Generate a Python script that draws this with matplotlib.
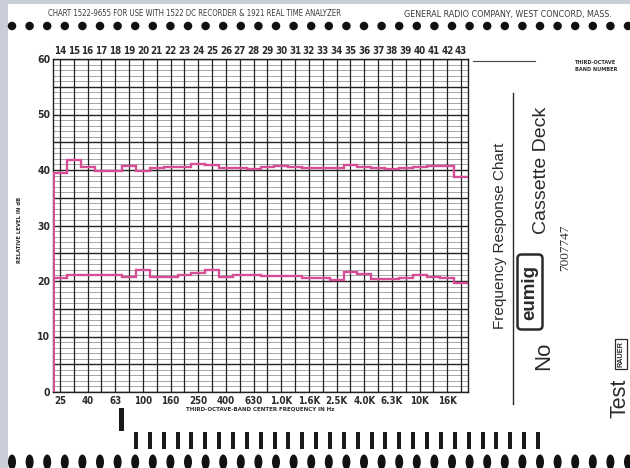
import numpy as np
import matplotlib
matplotlib.use("Agg")
import matplotlib.pyplot as plt
from matplotlib.patches import Rectangle, Ellipse, FancyBboxPatch

# third-octave band numbers and the frequency labels printed under every second band
bands = list(range(14, 44))
freq_bands = [14, 16, 18, 20, 22, 24, 26, 28, 30, 32, 34, 36, 38, 40, 42]
freq_labels = ["25", "40", "63", "100", "160", "250", "400", "630", "1.0K",
               "1.6K", "2.5K", "4.0K", "6.3K", "10K", "16K"]

# pen traces (dB)
upper = [39.4, 41.8, 40.5, 39.8, 39.8, 40.8, 39.8, 40.4, 40.6, 40.6,
         41.0, 40.9, 40.4, 40.4, 40.1, 40.6, 40.7, 40.6, 40.3, 40.3,
         40.3, 40.9, 40.6, 40.3, 40.1, 40.4, 40.5, 40.8, 40.7, 38.7]
lower = [20.5, 21.1, 21.0, 21.0, 21.0, 20.7, 21.9, 20.8, 20.8, 21.1,
         21.5, 21.9, 20.7, 21.1, 21.1, 20.9, 20.9, 20.9, 20.6, 20.6,
         20.2, 21.6, 21.2, 20.4, 20.4, 20.6, 21.0, 20.7, 20.6, 19.6]

W, H = 630, 468
pen = "#d64f96"
ink = "#2b2b2b"
cond = dict(family="DejaVu Sans", stretch="condensed", weight="bold")
thin = dict(family="DejaVu Sans", stretch="condensed")
sans = ["Liberation Sans", "DejaVu Sans"]

fig = plt.figure(figsize=(W / 100, H / 100), dpi=100)
fig.patch.set_facecolor("#c9ced8")

# whole-figure axes in pixel units for the paper and printing
bg = fig.add_axes([0, 0, 1, 1])
bg.set_xlim(0, W)
bg.set_ylim(H, 0)
bg.axis("off")
bg.add_patch(Rectangle((8, 4), W - 8, H - 4, facecolor="white", edgecolor="none"))

# sprocket holes top and bottom
for i in range(36):
    x = 12 + i * 17.6
    bg.add_patch(Ellipse((x, 26), 8.5, 8.5, facecolor="#111111", edgecolor="none"))
    bg.add_patch(Ellipse((x, 462), 8, 15, facecolor="#111111", edgecolor="none"))

# index bars under the chart
bg.add_patch(Rectangle((119, 408), 5, 23, facecolor="#1a1a1a", edgecolor="none"))
for i in range(30):
    bg.add_patch(Rectangle((134 + i * 13.86, 432), 4, 17, facecolor="#1a1a1a", edgecolor="none"))

bg.text(48, 14, "CHART 1522-9655 FOR USE WITH 1522 DC RECORDER & 1921 REAL TIME ANALYZER",
        fontsize=5.6, color="#3a3a3a", va="center", ha="left", **thin)
bg.text(612, 14, "GENERAL RADIO COMPANY, WEST CONCORD, MASS.",
        fontsize=6.4, color="#3a3a3a", va="center", ha="right", **thin)

# chart paper
ax = fig.add_axes([53 / W, 1 - 392 / H, 415 / W, 333 / H])
ax.set_xlim(13.5, 43.5)
ax.set_ylim(0, 60)
for db in range(0, 61):
    lw = 1.0 if db % 5 == 0 else 0.45
    col = "#222222" if db % 5 == 0 else "#777777"
    ax.axhline(db, color=col, lw=lw, zorder=1)
for b in bands:
    ax.axvline(b, color="#222222", lw=0.9, zorder=1)
for s in ax.spines.values():
    s.set_color("#222222")
    s.set_linewidth(1.0)

edges = np.append(np.array(bands) - 0.5, bands[-1] + 0.5)
ax.stairs(upper, edges, baseline=None, color=pen, lw=1.7, zorder=3)
ax.stairs(lower, edges, baseline=None, color=pen, lw=1.7, zorder=3)
ax.vlines(edges[0], 0, upper[0], color=pen, lw=2.2, zorder=3)

ax.set_yticks(range(0, 61, 10))
ax.set_yticklabels([str(v) for v in range(0, 61, 10)], fontsize=7.5, color=ink, **cond)
ax.tick_params(axis="y", length=0, pad=2)
ax.set_xticks(freq_bands)
ax.set_xticklabels(freq_labels, fontsize=7, color=ink, **cond)
ax.tick_params(axis="x", length=0, pad=3)

top = ax.secondary_xaxis("top")
top.set_xticks(bands)
top.set_xticklabels([str(b) for b in bands], fontsize=7, color=ink, **cond)
top.tick_params(length=0, pad=2)
top.spines["top"].set_visible(False)

ax.set_xlabel("THIRD-OCTAVE-BAND CENTER FREQUENCY IN Hz", fontsize=4.4, color=ink,
              labelpad=0, **cond)
bg.text(20, 230, "RELATIVE LEVEL IN dB", rotation=90, fontsize=4.2,
        color=ink, ha="center", va="center", **cond)

# right-hand printing
bg.plot([473, 535], [61, 61], color="#444444", lw=0.8)
bg.text(575, 66, "THIRD-OCTAVE\nBAND NUMBER", fontsize=4.0,
        color=ink, ha="left", va="center", linespacing=1.6, **cond)
bg.plot([513, 513], [93, 404], color=ink, lw=1.0)
bg.text(500, 236, "Frequency Response Chart", rotation=90, family=sans, fontsize=11,
        color=ink, ha="center", va="center")
bg.text(541, 170, "Cassette Deck", rotation=90, family=sans, fontsize=14,
        color=ink, ha="center", va="center")
bg.add_patch(FancyBboxPatch((519, 256), 22, 72, boxstyle="round,pad=1.5,rounding_size=4",
                            facecolor="white", edgecolor=ink, lw=1.8))
bg.text(530, 292, "eumig", rotation=90, family=sans, fontsize=13.5, weight="bold",
        color=ink, ha="center", va="center")
bg.text(565, 248, "7007747", rotation=90, family=["Liberation Serif", "DejaVu Serif"],
        fontsize=9.5, color="#333333", ha="center", va="center")
bg.text(544, 356, "No", rotation=90, family=sans, fontsize=16, color=ink,
        ha="center", va="center")
bg.text(620, 398, "Test", rotation=90, family=sans, fontsize=15.5, color=ink,
        ha="center", va="center")
bg.text(621, 354, "RAUER", rotation=90, family=sans, fontsize=5.2, weight="bold",
        color=ink, ha="center", va="center",
        bbox=dict(boxstyle="square,pad=0.3", facecolor="white", edgecolor=ink, lw=0.9))

fig.savefig("out.png", dpi=100)
